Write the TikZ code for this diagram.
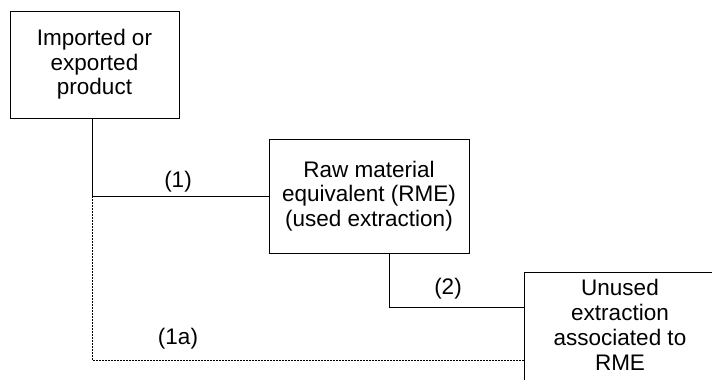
\documentclass[tikz,border=0pt]{standalone}
\usepackage{fontspec}
\setmainfont{Liberation Sans}
\begin{document}
\begin{tikzpicture}[x=1pt,y=-1pt,
  box/.style={draw, line width=1pt, inner sep=0pt, align=center,
    font=\fontsize{22.5}{24.5}\selectfont},
  lbl/.style={font=\fontsize{22.5}{24.5}\selectfont, inner sep=0pt},
  link/.style={line width=1pt},
  dotlink/.style={line width=1pt, dash pattern=on 1.5pt off 1.5pt}]
\useasboundingbox (0,0) rectangle (712,380);
\begin{scope}
\clip (0,0) rectangle (712,380);
\node[box, minimum width=169pt, minimum height=107pt] (b1) at (94.5,64.5) {Imported or\\exported\\product};
\node[box, minimum width=200pt, minimum height=114pt] (b2) at (369,196) {Raw material\\equivalent (RME)\\(used extraction)};
\node[box, minimum width=192pt, minimum height=128pt, anchor=north west] (b3) at (524,272) {};
\node[font=\fontsize{22.5}{25}\selectfont, align=center, anchor=north, inner sep=0pt] (b3t) at (620,279) {Unused\\extraction\\associated to\\RME};
\end{scope}
\coordinate (j) at (92,196);
\coordinate (k) at (92,360);
\coordinate (m) at (389,307);
\draw[link] (j |- b1.south) -- (j) -- (b2.west);
\draw[dotlink] (j) -- (k) -- (k -| b3.west);
\draw[link] (m |- b2.south) -- (m) -- (m -| b3.west);
\node[lbl] (l1) at (178,182) {(1)};
\node[lbl] (l1a) at (178,339) {(1a)};
\node[lbl] (l2) at (448,289) {(2)};
\end{tikzpicture}
\end{document}
